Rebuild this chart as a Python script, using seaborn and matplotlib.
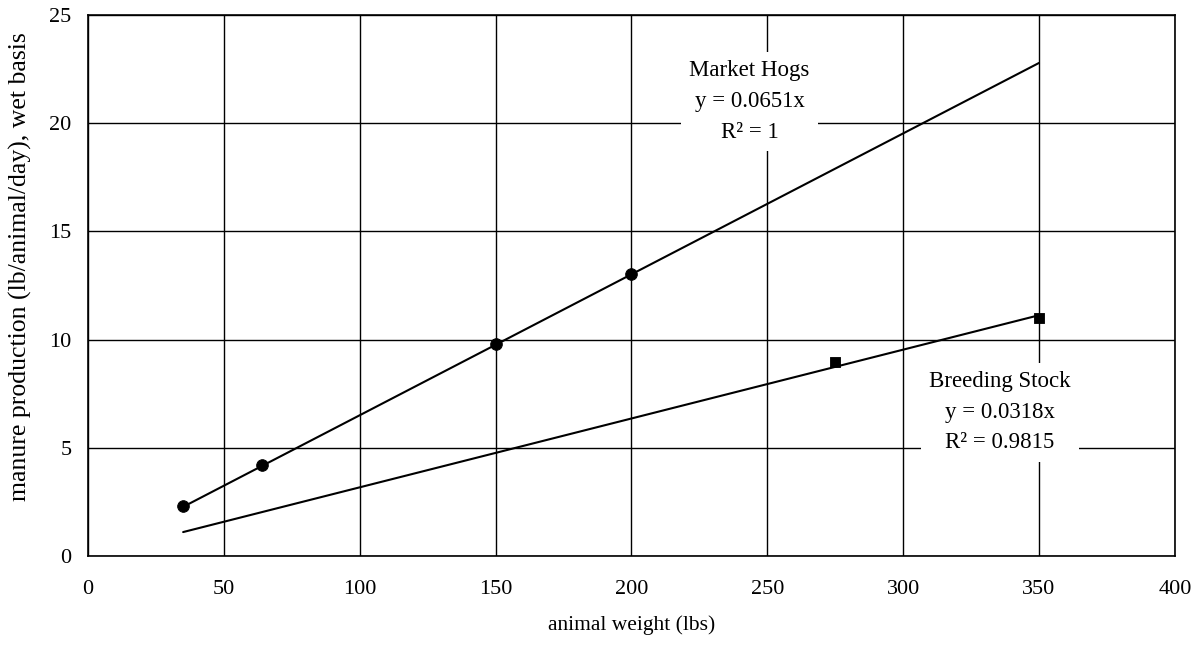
import numpy as np
import pandas as pd
import seaborn as sns
import matplotlib.pyplot as plt

# data
hog_weight = [35, 64, 150, 200]
hog_manure = [2.3, 4.2, 9.8, 13.05]
breed_weight = [275, 350]
breed_manure = [8.95, 11.0]
hog_slope = 0.0651
breed_slope = 0.0318
trend_x = [35, 350]

sns.set_style("white")
plt.rcParams['font.family'] = ['Liberation Serif', 'DejaVu Serif']
plt.rcParams['text.color'] = 'black'
plt.rcParams['axes.labelcolor'] = 'black'
plt.rcParams['xtick.color'] = 'black'
plt.rcParams['ytick.color'] = 'black'

fig = plt.figure(figsize=(11.93, 6.52), dpi=100)
ax = fig.add_axes([0.0738, 0.147, 0.911, 0.83])

# trendlines
hog_trend = pd.DataFrame({'x': trend_x, 'y': [hog_slope * v for v in trend_x]})
breed_trend = pd.DataFrame({'x': trend_x, 'y': [breed_slope * v for v in trend_x]})
sns.lineplot(data=hog_trend, x='x', y='y', ax=ax, color='black', lw=1.5, zorder=3)
sns.lineplot(data=breed_trend, x='x', y='y', ax=ax, color='black', lw=1.5, zorder=3)

# data points
sns.scatterplot(x=hog_weight, y=hog_manure, ax=ax, marker='o', s=70, color='black',
                edgecolor='black', zorder=4)
sns.scatterplot(x=breed_weight, y=breed_manure, ax=ax, marker='s', s=60, color='black',
                edgecolor='black', zorder=4)

ax.set_xlim(0, 400)
ax.set_ylim(0, 25)
ax.set_xticks(range(0, 401, 50))
ax.set_yticks(range(0, 26, 5))
ax.grid(True, color='black', lw=1)
ax.set_axisbelow(True)
for s in ax.spines.values():
    s.set_color('black')
    s.set_linewidth(1.2)
ax.tick_params(axis='both', direction='out', length=7, width=1, color='black',
               labelsize=16, pad=5)
ax.tick_params(axis='x', pad=10)
ax.set_xlabel('animal weight (lbs)', fontsize=15.5, labelpad=12)
ax.set_ylabel('manure production (lb/animal/day), wet basis', fontsize=18.5)
ax.yaxis.set_label_coords(-0.052, 0.535)

box = dict(facecolor='white', edgecolor='none', pad=6)
ax.text(243.5, 21.0, 'Market Hogs\ny = 0.0651x\nR² = 1', ha='center', va='center',
        fontsize=16.5, linespacing=1.6, bbox=box, zorder=5)
ax.text(335.5, 6.65, 'Breeding Stock\ny = 0.0318x\nR² = 0.9815', ha='center', va='center',
        fontsize=16.5, linespacing=1.6, bbox=box, zorder=5)

fig.savefig('out.png', dpi=100)
